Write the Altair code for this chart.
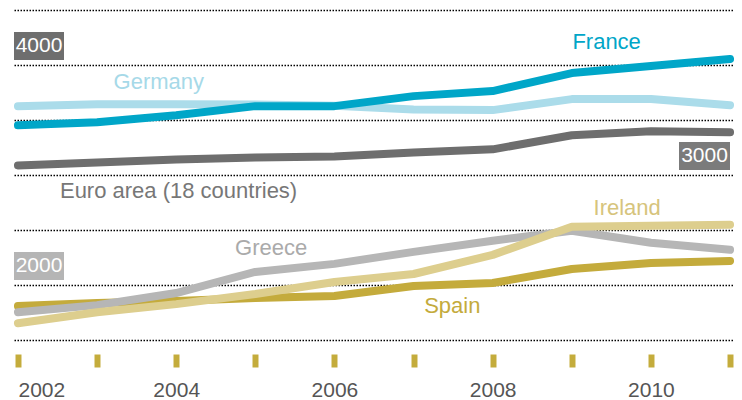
import altair as alt
import pandas as pd

years = [2002, 2003, 2004, 2005, 2006, 2007, 2008, 2009, 2010, 2011]
france = [3452, 3479, 3543, 3626, 3626, 3717, 3763, 3927, 3991, 4055]
germany = [3626, 3644, 3644, 3640, 3630, 3595, 3590, 3690, 3690, 3635]
euro = [3087, 3114, 3142, 3160, 3169, 3205, 3233, 3361, 3397, 3388]
greece = [1753, 1817, 1927, 2119, 2192, 2301, 2402, 2493, 2384, 2320]
ireland = [1653, 1753, 1826, 1918, 2027, 2100, 2274, 2530, 2539, 2548]
spain = [1808, 1836, 1854, 1881, 1900, 1991, 2018, 2146, 2201, 2219]

series_names = ["Spain", "Greece", "Ireland", "Euro area (18 countries)", "Germany", "France"]
series_values = [spain, greece, ireland, euro, germany, france]
series_colors = ["#c4ab3c", "#b6b6b6", "#ddce8e", "#6e6e6e", "#abdcea", "#00a6c8"]

label_texts = ["France", "Germany", "Euro area (18 countries)", "Greece", "Ireland", "Spain"]
label_colors = ["#00a6c8", "#a6d9e8", "#777777", "#aaaaaa", "#d6c47c", "#c4ab3c"]
label_x = [2009.44, 2003.78, 2004.03, 2005.2, 2009.7, 2007.49]
label_y = [4210, 3845, 2859, 2338, 2703, 1809]

axis_values = [4000, 3000, 2000]
axis_box_colors = ["#6e6e6e", "#7b7b7b", "#b5b5b5"]
axis_box_px = [(0, 50), (665, 716), (0, 50)]

font = "Liberation Sans"
xscale = alt.Scale(domain=[2001.95, 2011.05], nice=False, zero=False)
yscale = alt.Scale(domain=[1500, 4500], nice=False, zero=False)

xaxis = alt.Axis(
    values=years, labelExpr="datum.value % 2 == 0 ? format(datum.value, 'd') : ''",
    grid=False, domain=False, tickColor="#c4ac3c", tickWidth=6, tickSize=13, offset=14,
    labelFontSize=21, labelFont=font, labelColor="#555555", labelPadding=12,
    labelFlush=8, title=None,
)
yaxis = alt.Axis(
    values=[1500, 2000, 2500, 3000, 3500, 4000, 4500], grid=True, gridColor="#000000",
    gridDash=[1.5, 1.5], gridWidth=1.3, ticks=False, labels=False, domain=False, title=None,
)


def X(**kw):
    return alt.X(scale=xscale, axis=xaxis, **kw)


def Y(**kw):
    return alt.Y(scale=yscale, axis=yaxis, **kw)


layers = []
for name, vals, col in zip(series_names, series_values, series_colors):
    df = pd.DataFrame({"Year": years, "Value": vals, "Series": name})
    layers.append(
        alt.Chart(df).mark_line(color=col, strokeWidth=8, strokeCap="round", strokeJoin="round").encode(
            x=X(field="Year", type="quantitative"), y=Y(field="Value", type="quantitative")
        )
    )

for txt, col, lx, ly in zip(label_texts, label_colors, label_x, label_y):
    layers.append(
        alt.Chart(pd.DataFrame({"t": [txt]})).mark_text(
            color=col, font=font, fontSize=22, align="center", baseline="middle"
        ).encode(x=X(datum=lx), y=Y(datum=ly), text="t:N")
    )

for v, col, (x0, x1) in zip(axis_values, axis_box_colors, axis_box_px):
    layers.append(
        alt.Chart(pd.DataFrame({"v": [v]})).mark_rect(color=col).encode(
            x=alt.value(x0), x2=alt.value(x1), y=Y(datum=v + 45), y2=alt.datum(v + 300)
        )
    )
    layers.append(
        alt.Chart(pd.DataFrame({"t": [str(v)]})).mark_text(
            color="white", font=font, fontSize=21, align="center", baseline="middle"
        ).encode(x=alt.value((x0 + x1) / 2), y=Y(datum=v + 172), text="t:N")
    )

chart = alt.layer(*layers).properties(
    width=720, height=330,
    autosize=alt.AutoSizeParams(type="none"),
    padding={"left": 6, "top": 2, "right": 0, "bottom": 62},
).configure_view(stroke=None)

chart.save("out.html", embed_options={"renderer": "svg", "actions": False})
